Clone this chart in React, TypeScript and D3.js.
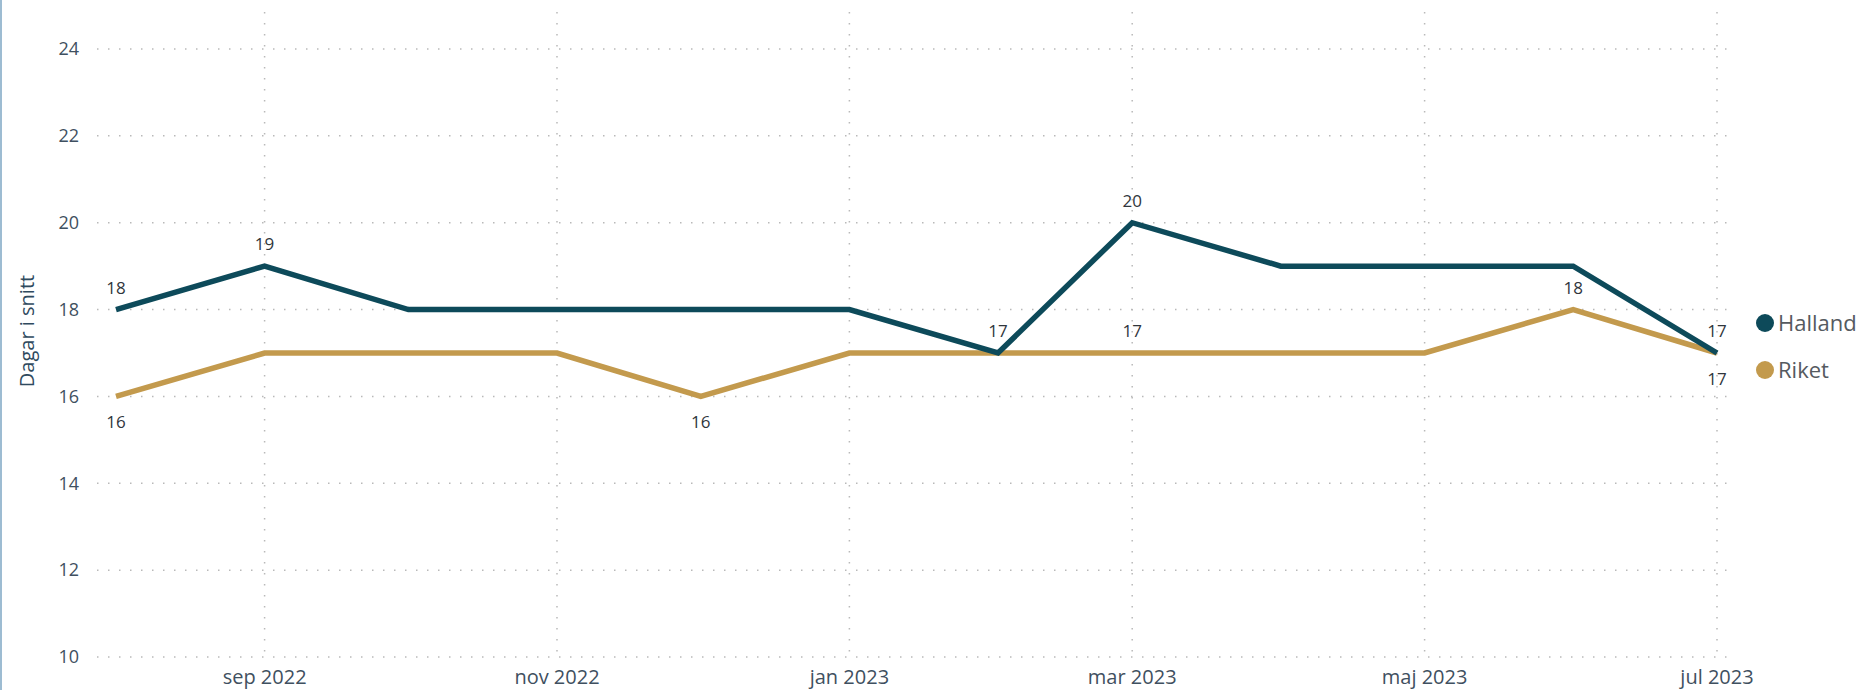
import React, { useEffect, useRef } from "react";
import * as d3 from "d3";

const months = [
  "2022-08-01", "2022-09-01", "2022-10-01", "2022-11-01", "2022-12-01", "2023-01-01",
  "2023-02-01", "2023-03-01", "2023-04-01", "2023-05-01", "2023-06-01", "2023-07-01",
];
const halland = [18, 19, 18, 18, 18, 18, 17, 20, 19, 19, 19, 17];
const riket = [16, 17, 17, 17, 16, 17, 17, 17, 17, 17, 18, 17];
// which data labels power bi kept visible: "a" above, "b" below, "" hidden
const hallandLabels = ["a", "a", "", "", "", "", "a", "a", "", "", "", "a"];
const riketLabels = ["b", "", "", "", "b", "", "", "a", "", "", "a", "b"];
const xTickDates = ["2022-09-01", "2022-11-01", "2023-01-01", "2023-03-01", "2023-05-01", "2023-07-01"];
const xTickLabels = ["sep 2022", "nov 2022", "jan 2023", "mar 2023", "maj 2023", "jul 2023"];
const yTicks = [10, 12, 14, 16, 18, 20, 22, 24];
const seriesNames = ["Halland", "Riket"];
const colors = ["#0d4a5a", "#c39a4d"];

const FONT = "'Segoe UI', 'Open Sans', 'Noto Sans', sans-serif";

export default function App() {
  const ref = useRef<SVGSVGElement>(null);

  useEffect(() => {
    drawChart();
  }, []);

  function drawChart() {
    const svg = d3.select(ref.current);
    svg.selectAll("*").remove();

    const width = 1862;
    const height = 690;
    const parse = d3.timeParse("%Y-%m-%d");
    const dates = months.map((m) => parse(m) as Date);

    const xScale = d3.scaleTime().domain([dates[0], dates[dates.length - 1]]).range([116, 1717]);
    const yScale = d3.scaleLinear().domain([10, 24]).range([657, 49]);
    const plotLeft = 97;
    const plotRight = 1727;
    const plotTop = 12;

    svg.append("rect").attr("width", width).attr("height", height).attr("fill", "#fff");
    // left border of the visual
    svg.append("rect").attr("x", 0).attr("y", 0).attr("width", 2).attr("height", height).attr("fill", "#9dbcd2");

    // horizontal grid
    svg
      .append("g")
      .selectAll("line")
      .data(yTicks)
      .join("line")
      .attr("x1", plotLeft)
      .attr("x2", plotRight)
      .attr("y1", (d) => yScale(d))
      .attr("y2", (d) => yScale(d))
      .attr("stroke", "#b9b9b9")
      .attr("stroke-width", 1.5)
      .attr("stroke-dasharray", "1.5 9.5");

    // vertical grid
    svg
      .append("g")
      .selectAll("line")
      .data(xTickDates)
      .join("line")
      .attr("x1", (d) => xScale(parse(d) as Date))
      .attr("x2", (d) => xScale(parse(d) as Date))
      .attr("y1", plotTop)
      .attr("y2", yScale(10))
      .attr("stroke", "#b9b9b9")
      .attr("stroke-width", 1.5)
      .attr("stroke-dasharray", "1.5 9.5");

    // y tick labels
    svg
      .append("g")
      .selectAll("text")
      .data(yTicks)
      .join("text")
      .attr("x", 79)
      .attr("y", (d) => yScale(d))
      .attr("dy", "0.35em")
      .attr("text-anchor", "end")
      .attr("font-family", FONT)
      .attr("font-size", 18)
      .attr("fill", "#3f5060")
      .text((d) => d);

    // x tick labels
    svg
      .append("g")
      .selectAll("text")
      .data(xTickDates)
      .join("text")
      .attr("x", (d) => xScale(parse(d) as Date))
      .attr("y", 677)
      .attr("dy", "0.35em")
      .attr("text-anchor", "middle")
      .attr("font-family", FONT)
      .attr("font-size", 20)
      .attr("fill", "#3f5060")
      .text((d, i) => xTickLabels[i]);

    // y axis title
    svg
      .append("text")
      .attr("transform", `translate(27,331) rotate(-90)`)
      .attr("dy", "0.35em")
      .attr("text-anchor", "middle")
      .attr("font-family", FONT)
      .attr("font-size", 20)
      .attr("fill", "#2f4a5e")
      .text("Dagar i snitt");

    const line = d3
      .line<number>()
      .x((d, i) => xScale(dates[i]))
      .y((d) => yScale(d));

    [riket, halland].forEach((values) => {
      const idx = values === halland ? 0 : 1;
      svg
        .append("path")
        .datum(values)
        .attr("fill", "none")
        .attr("stroke", colors[idx])
        .attr("stroke-width", 5.5)
        .attr("stroke-linejoin", "miter")
        .attr("d", line);
    });

    // data labels
    [halland, riket].forEach((values, idx) => {
      const flags = idx === 0 ? hallandLabels : riketLabels;
      svg
        .append("g")
        .selectAll("text")
        .data(values.map((v, i) => ({ v, i, f: flags[i] })).filter((d) => d.f !== ""))
        .join("text")
        .attr("x", (d) => xScale(dates[d.i]))
        .attr("y", (d) => yScale(d.v) + (d.f === "a" ? -22 : 26))
        .attr("dy", "0.35em")
        .attr("text-anchor", "middle")
        .attr("font-family", FONT)
        .attr("font-size", 17)
        .attr("fill", "#30363c")
        .text((d) => d.v);
    });

    // legend
    const legend = svg
      .append("g")
      .selectAll("g")
      .data(seriesNames)
      .join("g")
      .attr("transform", (d, i) => `translate(1765,${323 + i * 47})`);
    legend.append("circle").attr("r", 9).attr("fill", (d, i) => colors[i]);
    legend
      .append("text")
      .attr("x", 13)
      .attr("dy", "0.35em")
      .attr("font-family", FONT)
      .attr("font-size", 22)
      .attr("fill", "#555a60")
      .text((d) => d);
  }

  return (
    <svg
      ref={ref}
      width={1862}
      height={690}
      style={{ position: "absolute", left: 0, top: 0, display: "block" }}
    />
  );
}
